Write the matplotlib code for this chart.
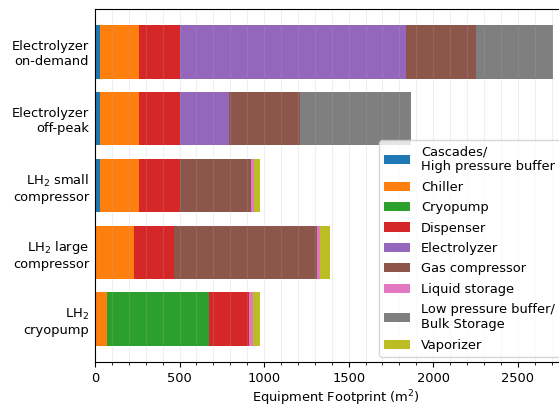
import matplotlib
matplotlib.use("Agg")
import matplotlib.pyplot as plt
import numpy as np
from matplotlib.ticker import MultipleLocator

plt.rcParams["font.size"] = 9.4

configs = ["Electrolyzer\non-demand", "Electrolyzer\noff-peak",
           "LH$_2$ small\ncompressor", "LH$_2$ large\ncompressor", "LH$_2$\ncryopump"]
components = ["Cascades/\nHigh pressure buffer", "Chiller", "Cryopump", "Dispenser",
              "Electrolyzer", "Gas compressor", "Liquid storage",
              "Low pressure buffer/\nBulk Storage", "Vaporizer"]

cascades   = [28, 28, 28, 0, 0]
chiller    = [232, 232, 232, 231, 72]
cryopump   = [0, 0, 0, 0, 603]
dispenser  = [240, 240, 240, 239, 236]
electrolyzer = [1338, 295, 0, 0, 0]
gas_comp   = [418, 416, 423, 845, 0]
liquid     = [0, 0, 18, 16, 22]
lp_buffer  = [454, 655, 0, 0, 0]
vaporizer  = [0, 0, 35, 58, 41]

series = [cascades, chiller, cryopump, dispenser, electrolyzer, gas_comp, liquid, lp_buffer, vaporizer]
colors = ["#1f77b4", "#ff7f0e", "#2ca02c", "#d62728", "#9467bd",
          "#8c564b", "#e377c2", "#7f7f7f", "#bcbd22"]

fig = plt.figure(figsize=(5.59, 4.07), dpi=100)
ax = fig.add_axes([0.170, 0.1106, 0.8605, 0.8673])

y = np.arange(len(configs))
left = np.zeros(len(configs))
for name, vals, c in zip(components, series, colors):
    vals = np.array(vals, dtype=float)
    ax.barh(y, vals, left=left, height=0.8, color=c, label=name)
    left += vals

ax.set_yticks(y)
ax.set_yticklabels(configs)
ax.tick_params(axis="y", length=0, pad=4.3)
ax.invert_yaxis()
ax.set_xlim(0, 2845)
ax.xaxis.set_minor_locator(MultipleLocator(100))
ax.grid(which="both", axis="x", alpha=0.2)
ax.set_xlabel("Equipment Footprint (m$^2$)", labelpad=3)

ax.legend(loc="upper left", bbox_to_anchor=(379/559, 1 - 140/407),
          bbox_transform=fig.transFigure, borderaxespad=0, labelspacing=0.57)

fig.savefig("out.png", dpi=100)
